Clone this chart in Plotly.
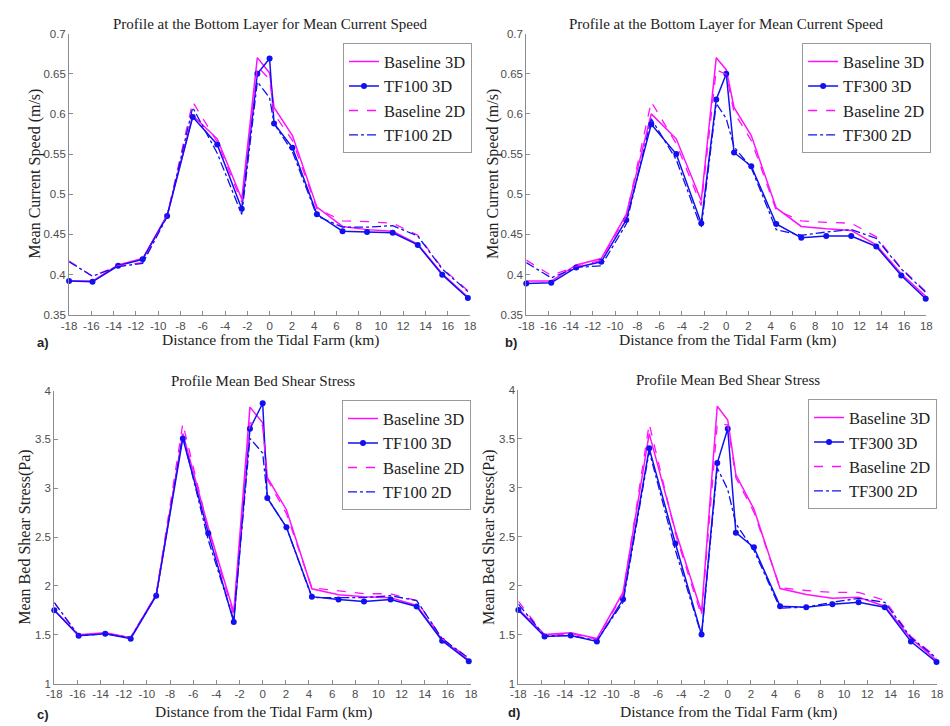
import plotly.graph_objects as go

# Distance from the tidal farm (km) at each sampling station
dist_tf100 = [-18, -15.9, -13.6, -11.4, -9.2, -6.9, -4.7, -2.5, -1.1, 0.0, 0.4,
              2.05, 4.25, 6.55, 8.75, 11.05, 13.3, 15.5, 17.8]
dist_tf300 = [-18, -15.75, -13.5, -11.25, -9.0, -6.75, -4.5, -2.25, -0.9, 0.0, 0.7,
              2.25, 4.5, 6.75, 9.0, 11.25, 13.5, 15.75, 17.95]

# a) mean current speed at the bottom layer (m/s), TF100
speed_base3d_a = [0.392, 0.392, 0.412, 0.420, 0.474, 0.598, 0.569, 0.494, 0.670, 0.651,
                  0.608, 0.573, 0.484, 0.460, 0.456, 0.454, 0.438, 0.401, 0.372]
speed_tf3d_a = [0.392, 0.391, 0.411, 0.419, 0.473, 0.596, 0.562, 0.482, 0.650, 0.669,
                0.588, 0.558, 0.475, 0.454, 0.453, 0.452, 0.437, 0.400, 0.371]
speed_base2d_a = [0.417, 0.398, 0.411, 0.415, 0.473, 0.615, 0.565, 0.490, 0.659, 0.643,
                  0.600, 0.567, 0.482, 0.467, 0.466, 0.464, 0.449, 0.408, 0.380]
speed_tf2d_a = [0.416, 0.398, 0.410, 0.414, 0.472, 0.608, 0.551, 0.475, 0.640, 0.620,
                0.588, 0.553, 0.473, 0.459, 0.459, 0.461, 0.448, 0.407, 0.379]

# b) mean current speed at the bottom layer (m/s), TF300
speed_base3d_b = [0.392, 0.392, 0.412, 0.420, 0.475, 0.600, 0.569, 0.492, 0.670, 0.655,
                  0.608, 0.573, 0.483, 0.460, 0.457, 0.455, 0.437, 0.401, 0.373]
speed_tf3d_b = [0.389, 0.390, 0.409, 0.416, 0.468, 0.587, 0.550, 0.464, 0.618, 0.650,
                0.552, 0.535, 0.463, 0.446, 0.448, 0.448, 0.435, 0.399, 0.370]
speed_base2d_b = [0.418, 0.399, 0.410, 0.418, 0.473, 0.615, 0.563, 0.486, 0.655, 0.649,
                  0.602, 0.567, 0.480, 0.467, 0.465, 0.464, 0.447, 0.408, 0.379]
speed_tf2d_b = [0.415, 0.396, 0.409, 0.411, 0.463, 0.594, 0.543, 0.458, 0.613, 0.594,
                0.559, 0.533, 0.456, 0.449, 0.453, 0.456, 0.445, 0.407, 0.378]

# c) mean bed shear stress (Pa), TF100
shear_base3d_c = [1.75, 1.50, 1.52, 1.47, 1.91, 3.56, 2.60, 1.73, 3.83, 3.67,
                  3.11, 2.78, 1.97, 1.91, 1.89, 1.88, 1.80, 1.45, 1.24]
shear_tf3d_c = [1.75, 1.49, 1.51, 1.46, 1.90, 3.51, 2.54, 1.63, 3.61, 3.87,
                2.90, 2.60, 1.89, 1.86, 1.84, 1.86, 1.79, 1.44, 1.23]
shear_base2d_c = [1.83, 1.49, 1.52, 1.47, 1.91, 3.66, 2.58, 1.70, 3.67, 3.64,
                  3.09, 2.74, 1.98, 1.95, 1.92, 1.92, 1.85, 1.46, 1.26]
shear_tf2d_c = [1.83, 1.49, 1.51, 1.47, 1.90, 3.54, 2.47, 1.65, 3.51, 3.36,
                2.90, 2.60, 1.88, 1.88, 1.88, 1.90, 1.85, 1.46, 1.26]

# d) mean bed shear stress (Pa), TF300
shear_base3d_d = [1.76, 1.50, 1.52, 1.46, 1.93, 3.55, 2.56, 1.73, 3.83, 3.69,
                  3.13, 2.78, 1.97, 1.91, 1.87, 1.88, 1.79, 1.46, 1.24]
shear_tf3d_d = [1.75, 1.48, 1.49, 1.43, 1.86, 3.40, 2.43, 1.50, 3.25, 3.60,
                2.54, 2.39, 1.79, 1.78, 1.81, 1.83, 1.78, 1.43, 1.22]
shear_base2d_d = [1.84, 1.49, 1.51, 1.45, 1.91, 3.65, 2.53, 1.69, 3.65, 3.64,
                  3.10, 2.75, 1.98, 1.95, 1.93, 1.93, 1.85, 1.48, 1.27]
shear_tf2d_d = [1.81, 1.49, 1.49, 1.44, 1.83, 3.37, 2.36, 1.49, 3.20, 2.98,
                2.63, 2.36, 1.77, 1.78, 1.83, 1.87, 1.83, 1.47, 1.26]

x_ticks = list(range(-18, 19, 2))
x_tick_labels = [str(v) for v in x_ticks]          # plain hyphen-minus labels
speed_ticks = [0.35, 0.4, 0.45, 0.5, 0.55, 0.6, 0.65, 0.7]
speed_tick_labels = ["0.35", "0.4", "0.45", "0.5", "0.55", "0.6", "0.65", "0.7"]
shear_ticks = [1, 1.5, 2, 2.5, 3, 3.5, 4]
shear_tick_labels = ["1", "1.5", "2", "2.5", "3", "3.5", "4"]

SERIF = "Liberation Serif"
SANS = "Liberation Sans"
MAGENTA = "#ff10ff"
BLUE = "#1010f0"

panels = [
    # (axis suffix, legend id, distances, [series], farm label)
    ("", "legend", dist_tf100,
     [speed_base3d_a, speed_tf3d_a, speed_base2d_a, speed_tf2d_a], "TF100"),
    ("2", "legend2", dist_tf300,
     [speed_base3d_b, speed_tf3d_b, speed_base2d_b, speed_tf2d_b], "TF300"),
    ("3", "legend3", dist_tf100,
     [shear_base3d_c, shear_tf3d_c, shear_base2d_c, shear_tf2d_c], "TF100"),
    ("4", "legend4", dist_tf300,
     [shear_base3d_d, shear_tf3d_d, shear_base2d_d, shear_tf2d_d], "TF300"),
]

W, H = 950, 726


def px_x(p):
    return p / W


def px_y(p):
    return 1 - p / H


fig = go.Figure()

for suffix, leg, dist, series, farm in panels:
    base3d, tf3d, base2d, tf2d = series
    common = dict(x=dist, xaxis="x" + suffix, yaxis="y" + suffix, legend=leg,
                  mode="lines", cliponaxis=False)
    fig.add_trace(go.Scatter(y=base3d, name="Baseline 3D",
                             line=dict(color=MAGENTA, width=1.5), **common))
    c2 = dict(common)
    c2["mode"] = "lines+markers"
    fig.add_trace(go.Scatter(y=tf3d, name=f"{farm} 3D",
                             line=dict(color=BLUE, width=1.5),
                             marker=dict(color=BLUE, size=6, symbol="circle"), **c2))
    fig.add_trace(go.Scatter(y=base2d, name="Baseline 2D",
                             line=dict(color=MAGENTA, width=1.3, dash="dash"), **common))
    fig.add_trace(go.Scatter(y=tf2d, name=f"{farm} 2D",
                             line=dict(color=BLUE, width=1.3, dash="dashdot"), **common))

# Plot areas in pixels: (left, right, top, bottom)
areas = {
    "": (62, 469, 28, 314),
    "2": (526, 932, 28, 314),
    "3": (47, 470, 391, 689),
    "4": (518, 943, 390, 689),
}

axis_style = dict(showline=True, linecolor="#8c8c8c", linewidth=1,
                  ticks="inside", ticklen=4, tickcolor="#8c8c8c",
                  showgrid=False, zeroline=False, mirror=False,
                  tickfont=dict(family=SANS, size=11.5, color="#4d4d4d"))

layout = dict(width=W, height=H, margin=dict(l=0, r=0, t=0, b=0),
              paper_bgcolor="white", plot_bgcolor="white", showlegend=True)

for suffix, (l, r, t, b) in areas.items():
    speed = suffix in ("", "2")
    layout["xaxis" + suffix] = dict(domain=[px_x(l), px_x(r)], range=[-18, 18],
                                    tickvals=x_ticks, ticktext=x_tick_labels,
                                    anchor="y" + suffix, **axis_style)
    layout["yaxis" + suffix] = dict(domain=[px_y(b), px_y(t)],
                                    range=[0.35, 0.7] if speed else [1, 4],
                                    tickvals=speed_ticks if speed else shear_ticks,
                                    ticktext=speed_tick_labels if speed else shear_tick_labels,
                                    anchor="x" + suffix, **axis_style)

legend_pos = {"legend": (340, 38), "legend2": (806, 38),
              "legend3": (339, 401), "legend4": (812, 400)}
for name, (lx, ly) in legend_pos.items():
    layout[name] = dict(x=px_x(lx), y=px_y(ly), xanchor="left", yanchor="top",
                        bgcolor="white", bordercolor="#9a9a9a", borderwidth=1,
                        font=dict(family=SERIF, size=16.5, color="#222"),
                        itemwidth=30, tracegroupgap=0)

fig.update_layout(**layout)

annotations = []
titles = [
    ("Profile at the Bottom Layer for Mean Current Speed", 266, 18),
    ("Profile at the Bottom Layer for Mean Current Speed", 729, 18),
    ("Profile Mean Bed Shear Stress", 259, 381),
    ("Profile Mean Bed Shear Stress", 731, 380),
]
for text, cx, cy in titles:
    annotations.append(dict(text=text, x=px_x(cx), y=px_y(cy), xref="paper", yref="paper",
                            showarrow=False, xanchor="center", yanchor="middle",
                            font=dict(family=SERIF, size=15, color="#222")))

xlabels = [(266, 340), (730, 340), (259, 718), (731, 718)]
for cx, cy in xlabels:
    annotations.append(dict(text="Distance from the Tidal Farm (km)", x=px_x(cx), y=px_y(cy),
                            xref="paper", yref="paper", showarrow=False,
                            xanchor="center", yanchor="middle",
                            font=dict(family=SERIF, size=15.5, color="#222")))

ylabels = [("Mean Current Speed (m/s)", 28, 171), ("Mean Current Speed (m/s)", 492, 171),
           ("Mean Bed Shear Stress(Pa)", 17, 540), ("Mean Bed Shear Stress(Pa)", 488, 540)]
for text, cx, cy in ylabels:
    annotations.append(dict(text=text, x=px_x(cx), y=px_y(cy), xref="paper", yref="paper",
                            showarrow=False, textangle=-90, xanchor="center", yanchor="middle",
                            font=dict(family=SERIF, size=16, color="#222")))

panel_tags = [("a)", 36, 342), ("b)", 511, 342), ("c)", 36, 720), ("d)", 514, 718)]
for text, cx, cy in panel_tags:
    annotations.append(dict(text=f"<b>{text}</b>", x=px_x(cx), y=px_y(cy), xref="paper",
                            yref="paper", showarrow=False, xanchor="center", yanchor="middle",
                            font=dict(family=SANS, size=13, color="#222")))

fig.update_layout(annotations=annotations)

fig.write_html("out.html")
